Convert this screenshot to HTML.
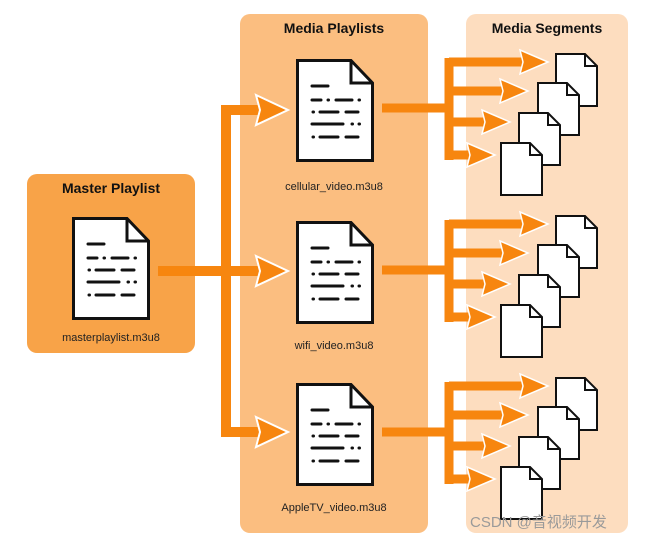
<!DOCTYPE html>
<html><head><meta charset="utf-8"><style>
html,body{margin:0;padding:0;background:#fff;width:671px;height:539px;overflow:hidden}
svg{display:block}
text{font-family:"Liberation Sans",sans-serif}
</style></head><body>
<svg width="671" height="539" viewBox="0 0 671 539" xmlns="http://www.w3.org/2000/svg">
<defs>
<g id="doc">
<path d="M1.5 1.5 H55 L76.5 24 V101.5 H1.5 Z" fill="#fff" stroke="#111" stroke-width="3" stroke-linejoin="miter"/>
<path d="M55 1.5 V24 H76.5" fill="none" stroke="#111" stroke-width="3"/>
<g stroke="#111" stroke-width="3" stroke-linecap="round">
<line x1="16" y1="27" x2="32" y2="27"/>
<line x1="16" y1="41" x2="25" y2="41"/><line x1="32" y1="41" x2="32.5" y2="41"/><line x1="40" y1="41" x2="56" y2="41"/><line x1="63" y1="41" x2="63.5" y2="41"/>
<line x1="17" y1="53" x2="17.5" y2="53"/><line x1="24" y1="53" x2="42" y2="53"/><line x1="50" y1="53" x2="62" y2="53"/>
<line x1="16" y1="65" x2="47" y2="65"/><line x1="56" y1="65" x2="56.5" y2="65"/><line x1="63" y1="65" x2="63.5" y2="65"/>
<line x1="17" y1="78" x2="17.5" y2="78"/><line x1="24" y1="78" x2="42" y2="78"/><line x1="50" y1="78" x2="62" y2="78"/>
</g>
</g>
<g id="sdoc">
<path d="M1 1 H30 L42 13 V53 H1 Z" fill="#fff" stroke="#111" stroke-width="2"/>
<path d="M30 1 V13 H42" fill="none" stroke="#111" stroke-width="2"/>
</g>
<g id="seg">
<g fill="none" stroke="#F7860F" stroke-width="9">
<line x1="382" y1="108" x2="453" y2="108"/>
<line x1="449" y1="58" x2="449" y2="160"/>
<line x1="449" y1="62" x2="525" y2="62"/>
<line x1="449" y1="91" x2="505" y2="91"/>
<line x1="449" y1="122" x2="487" y2="122"/>
<line x1="449" y1="155" x2="472" y2="155"/>
</g>
<g fill="#F7860F" stroke="#fff" stroke-width="1.5">
<polygon points="520,50 548,62 520,74 523,62"/>
<polygon points="500,79 528,91 500,103 503,91"/>
<polygon points="482,110 510,122 482,134 485,122"/>
<polygon points="467,143 495,155 467,167 470,155"/>
</g>
<use href="#sdoc" x="555" y="53"/>
<use href="#sdoc" x="537" y="82"/>
<use href="#sdoc" x="518" y="112"/>
<use href="#sdoc" x="500" y="142"/>
</g>
</defs>
<rect x="27" y="174" width="168" height="179" rx="10" fill="#F8A348"/>
<rect x="240" y="14" width="188" height="519" rx="10" fill="#FBBE80"/>
<rect x="466" y="14" width="162" height="519" rx="10" fill="#FDDDBF"/>
<text x="111" y="193" font-size="14" font-weight="bold" text-anchor="middle" fill="#111">Master Playlist</text>
<text x="334" y="33" font-size="14" font-weight="bold" text-anchor="middle" fill="#111">Media Playlists</text>
<text x="547" y="33" font-size="14" font-weight="bold" text-anchor="middle" fill="#111">Media Segments</text>
<use href="#doc" x="72" y="217"/>
<text x="111" y="341" font-size="11" text-anchor="middle" fill="#222">masterplaylist.m3u8</text>
<g fill="none" stroke="#F7860F" stroke-width="10">
<line x1="158" y1="271" x2="262" y2="271"/>
<polyline points="262,110 226,110 226,432 262,432"/>
</g>
<g fill="#F7860F" stroke="#fff" stroke-width="2">
<polygon points="256,95 288,110 256,125 260,110"/>
<polygon points="256,256 288,271 256,286 260,271"/>
<polygon points="256,417 288,432 256,447 260,432"/>
</g>
<use href="#doc" x="296" y="59"/>
<use href="#doc" x="296" y="221"/>
<use href="#doc" x="296" y="383"/>
<text x="334" y="190" font-size="11" text-anchor="middle" fill="#222">cellular_video.m3u8</text>
<text x="334" y="349" font-size="11" text-anchor="middle" fill="#222">wifi_video.m3u8</text>
<text x="334" y="511" font-size="11" text-anchor="middle" fill="#222">AppleTV_video.m3u8</text>
<use href="#seg"/>
<use href="#seg" y="162"/>
<use href="#seg" y="324"/>
<text x="470" y="527" font-size="15" fill="#9a9a9a" font-family="Liberation Sans, Noto Sans CJK SC, sans-serif">CSDN @音视频开发</text>
</svg>
</body></html>
